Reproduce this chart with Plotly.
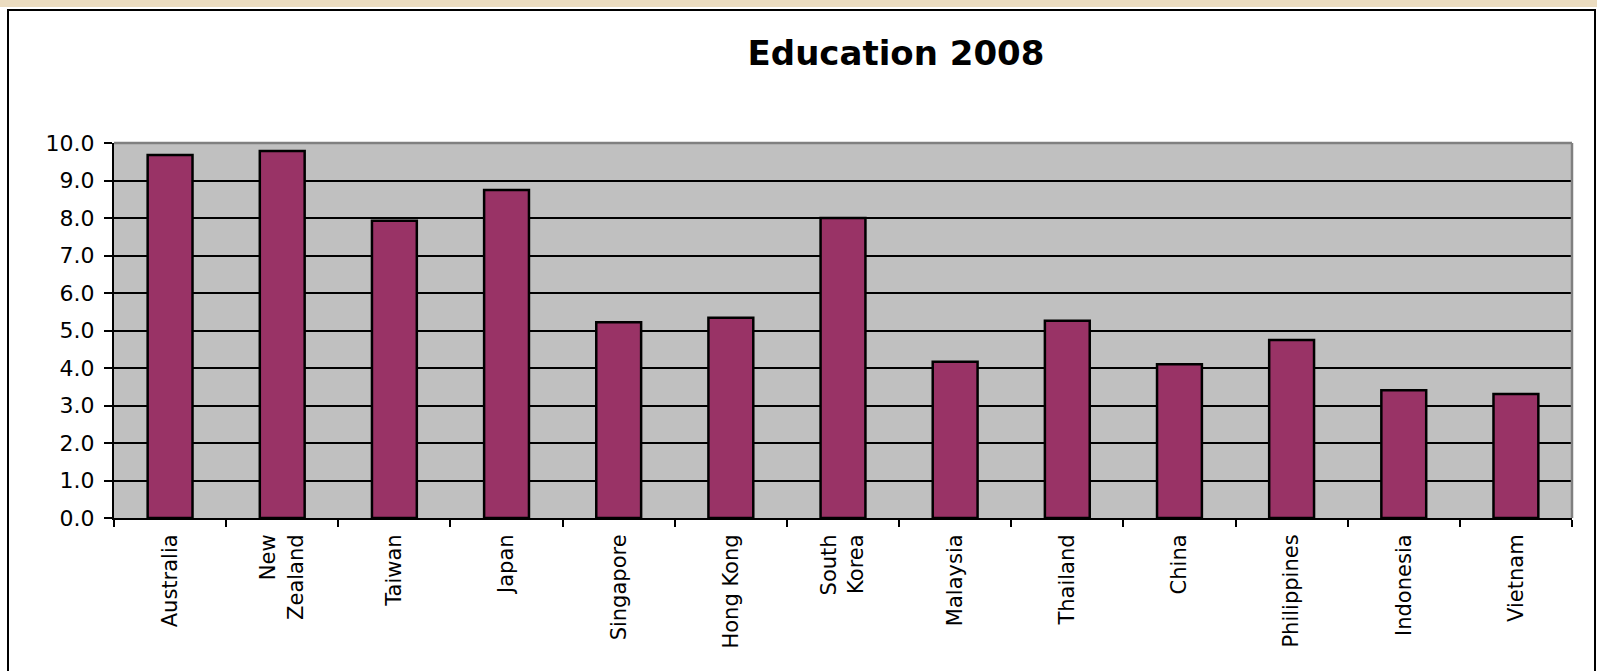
import plotly.graph_objects as go

countries = ["Australia", "New<br>Zealand", "Taiwan", "Japan", "Singapore", "Hong Kong",
             "South<br>Korea", "Malaysia", "Thailand", "China", "Philippines", "Indonesia", "Vietnam"]
education = [9.68, 9.79, 7.93, 8.75, 5.22, 5.34, 8.0, 4.17, 5.26, 4.1, 4.75, 3.41, 3.31]
y_ticks = [0, 1, 2, 3, 4, 5, 6, 7, 8, 9, 10]
title_text = "Education 2008"

W, H = 1597, 671
L, R, T, B = 114, 1572, 143, 518
pw, ph = R - L, B - T

def px(x):
    return (x - L) / pw

def py(y):
    return (B - y) / ph

fig = go.Figure(go.Bar(
    x=countries, y=education,
    marker=dict(color="#993366", line=dict(color="#000000", width=2.5)),
    hoverinfo="x+y",
))

shapes = [
    # beige strip at top
    dict(type="rect", xref="paper", yref="paper", x0=px(0), x1=px(W), y0=py(7), y1=py(0),
         fillcolor="#EBDCC0", line=dict(width=0), layer="below"),
    # chart border
    dict(type="rect", xref="paper", yref="paper", x0=px(8), x1=px(1595), y0=py(700), y1=py(10),
         fillcolor="rgba(0,0,0,0)", line=dict(color="#000000", width=2), layer="below"),
    # plot area gray border top & right
    dict(type="line", xref="paper", yref="paper", x0=0, x1=1, y0=1, y1=1,
         line=dict(color="#808080", width=2.5), layer="above"),
    dict(type="line", xref="paper", yref="paper", x0=1, x1=1, y0=0, y1=1,
         line=dict(color="#808080", width=2.5), layer="above"),
]

fig.update_layout(
    width=W, height=H,
    margin=dict(l=L, r=W - R, t=T, b=H - B, pad=0),
    paper_bgcolor="#FFFFFF",
    plot_bgcolor="#C0C0C0",
    bargap=0.6,
    showlegend=False,
    shapes=shapes,
    title=dict(text=f"<b>{title_text}</b>", x=896 / W, xanchor="center",
               y=1 - 53 / H, yanchor="middle", yref="container", xref="container",
               font=dict(family="DejaVu Sans, Arial", size=34, color="#000000")),
    font=dict(family="DejaVu Sans, Arial", color="#000000"),
)

fig.update_xaxes(
    type="category",
    tickangle=-90,
    tickson="boundaries",
    ticks="outside", ticklen=7, tickwidth=1.5, tickcolor="#000000",
    ticklabelstandoff=6,
    showline=True, linecolor="#000000", linewidth=2,
    showgrid=False,
    tickfont=dict(family="DejaVu Sans, Arial", size=21, color="#000000"),
    automargin=False,
)

fig.update_yaxes(
    range=[0, 10],
    tickvals=y_ticks,
    tickformat=".1f",
    ticks="outside", ticklen=8, tickwidth=1.5, tickcolor="#000000",
    ticklabelstandoff=5,
    showline=True, linecolor="#000000", linewidth=2,
    showgrid=True, gridcolor="#000000", gridwidth=1.5,
    zeroline=False,
    tickfont=dict(family="DejaVu Sans, Arial", size=22, color="#000000"),
    automargin=False,
)

fig.write_html(
    "out.html",
    config={"displayModeBar": False},
    post_script="document.body.style.margin='0';document.body.style.overflow='hidden';",
)
